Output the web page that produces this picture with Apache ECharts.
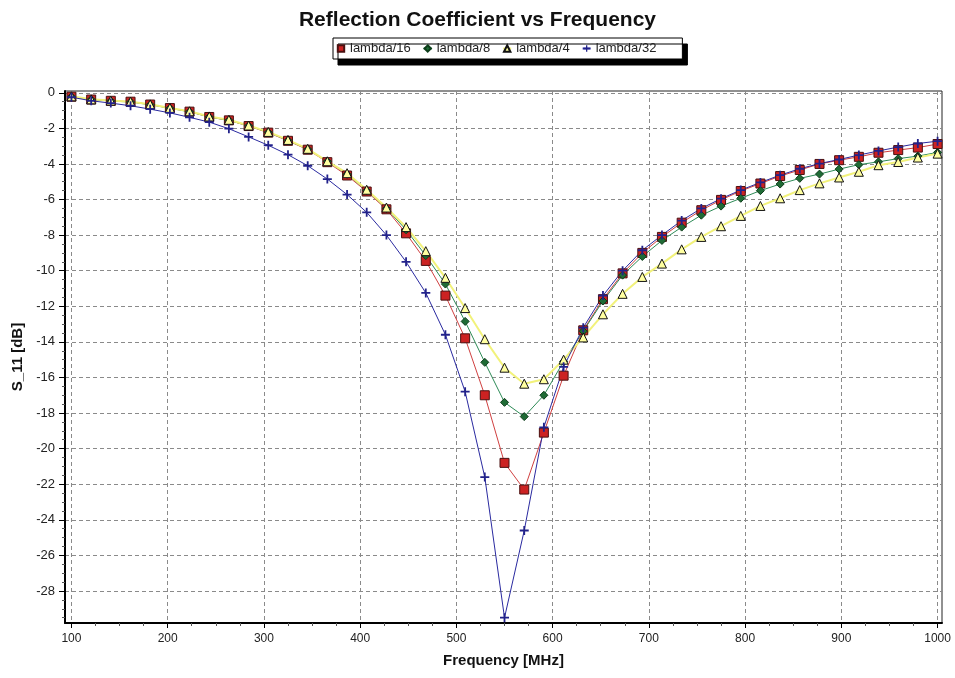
<!DOCTYPE html>
<html><head><meta charset="utf-8">
<script src="https://cdn.jsdelivr.net/npm/echarts@6/dist/echarts.min.js"></script>
<style>html,body{margin:0;padding:0;background:#fff}#c{width:955px;height:678px}</style>
</head><body><div id="c"></div>
<script>
const freq = [100, 120.5, 140.9, 161.4, 181.8, 202.3, 222.7, 243.2, 263.6, 284.1, 304.5, 325, 345.5, 365.9, 386.4, 406.8, 427.3, 447.7, 468.2, 488.6, 509.1, 529.5, 550, 570.5, 590.9, 611.4, 631.8, 652.3, 672.7, 693.2, 713.6, 734.1, 754.5, 775, 795.5, 815.9, 836.4, 856.8, 877.3, 897.7, 918.2, 938.6, 959.1, 979.5, 1000];

const lambda16 = [-0.22, -0.38, -0.45, -0.5, -0.66, -0.86, -1.06, -1.36, -1.55, -1.87, -2.24, -2.7, -3.2, -3.9, -4.65, -5.55, -6.55, -7.9, -9.45, -11.4, -13.8, -17.0, -20.8, -22.3, -19.1, -15.9, -13.35, -11.6, -10.15, -9.0, -8.1, -7.3, -6.6, -6.02, -5.52, -5.1, -4.68, -4.34, -4.0, -3.79, -3.6, -3.37, -3.22, -3.08, -2.88];
const lambda8 = [-0.22, -0.38, -0.46, -0.52, -0.67, -0.87, -1.07, -1.36, -1.55, -1.86, -2.22, -2.68, -3.17, -3.85, -4.58, -5.5, -6.5, -7.7, -9.15, -10.75, -12.85, -15.15, -17.4, -18.2, -17.0, -15.1, -13.4, -11.7, -10.25, -9.2, -8.3, -7.55, -6.88, -6.37, -5.93, -5.5, -5.13, -4.81, -4.57, -4.29, -4.04, -3.88, -3.7, -3.56, -3.35];
const lambda4 = [-0.2, -0.37, -0.44, -0.5, -0.65, -0.85, -1.04, -1.33, -1.52, -1.84, -2.2, -2.65, -3.15, -3.85, -4.52, -5.45, -6.45, -7.55, -8.9, -10.4, -12.1, -13.85, -15.45, -16.35, -16.1, -15.0, -13.75, -12.45, -11.3, -10.35, -9.6, -8.8, -8.1, -7.5, -6.92, -6.36, -5.93, -5.47, -5.09, -4.76, -4.44, -4.07, -3.89, -3.64, -3.42];
const lambda32 = [-0.25, -0.45, -0.58, -0.73, -0.92, -1.13, -1.38, -1.65, -2.02, -2.48, -2.95, -3.48, -4.1, -4.85, -5.72, -6.72, -8.0, -9.5, -11.25, -13.6, -16.8, -21.6, -29.5, -24.6, -18.8, -15.4, -13.2, -11.4, -10.0, -8.85, -8.0, -7.18, -6.5, -5.95, -5.47, -5.04, -4.63, -4.27, -3.98, -3.75, -3.5, -3.27, -3.05, -2.85, -2.72];

const seriesNames = ['lambda/16', 'lambda/8', 'lambda/4', 'lambda/32'];
const xTicks = [100, 200, 300, 400, 500, 600, 700, 800, 900, 1000];
const yTicks = [0, -2, -4, -6, -8, -10, -12, -14, -16, -18, -20, -22, -24, -26, -28];

const X_MIN = 93.3, X_MAX = 1004.6, Y_MIN = -29.8, Y_MAX = 0.1;

function minorBetween(ticks, parts, lo, hi) {
  const out = [];
  const sorted = ticks.slice().sort((a, b) => a - b);
  const step = sorted[1] - sorted[0];
  for (let t = sorted[0] - step; t <= sorted[sorted.length - 1]; t += step) {
    for (let k = 1; k < parts; k++) {
      const v = t + step * k / parts;
      if (v > lo && v < hi) out.push(+v.toFixed(4));
    }
  }
  return out;
}
const xMinor = minorBetween(xTicks, 4, X_MIN, X_MAX);
const yMinor = minorBetween(yTicks, 4, Y_MIN, Y_MAX);

const pair = arr => freq.map((f, i) => [f, arr[i]]);
const plusPath = 'path://M4,0h2v4h4v2h-4v4h-2v-4h-4v-2h4z';

const chart = echarts.init(document.getElementById('c'));
chart.setOption({
  animation: false,
  backgroundColor: '#fff',
  textStyle: { fontFamily: "'Liberation Sans', Arial, sans-serif" },
  title: {
    text: 'Reflection Coefficient vs Frequency',
    left: 'center', top: 5,
    textStyle: { fontSize: 21, fontWeight: 'bold', color: '#111' }
  },
  legend: {
    data: seriesNames,
    left: 333, top: 38,
    itemWidth: 8, itemHeight: 8, itemGap: 12,
    padding: [4, 26, 4, 3],
    backgroundColor: '#fff', borderColor: '#000', borderWidth: 1, borderRadius: 0,
    shadowColor: '#000', shadowBlur: 0, shadowOffsetX: 5, shadowOffsetY: 6,
    textStyle: { fontSize: 13, color: '#222' }
  },
  grid: { left: 65, top: 91, width: 877, height: 532, show: true, borderColor: '#222', borderWidth: 1, backgroundColor: '#fff' },
  xAxis: [
    {
      type: 'value', min: X_MIN, max: X_MAX, position: 'bottom',
      name: 'Frequency [MHz]', nameLocation: 'middle', nameGap: 30,
      nameTextStyle: { fontSize: 15, fontWeight: 'bold', color: '#111' },
      axisLine: { show: true, onZero: false, lineStyle: { color: '#000', width: 2 } },
      axisTick: { show: true, customValues: xTicks, length: 5, lineStyle: { color: '#000' } },
      axisLabel: { customValues: xTicks, margin: 10, fontSize: 12, color: '#222', formatter: v => String(v) },
      splitLine: { show: true, lineStyle: { color: '#8a8a8a', type: [4, 3], width: 1 } }
    },
    {
      type: 'value', min: X_MIN, max: X_MAX, position: 'bottom',
      axisLine: { show: false, onZero: false },
      axisTick: { show: true, customValues: xMinor, length: 3, lineStyle: { color: '#555' } },
      axisLabel: { show: false },
      splitLine: { show: false }
    }
  ],
  yAxis: [
    {
      type: 'value', min: Y_MIN, max: Y_MAX, position: 'left',
      name: 'S_11 [dB]', nameLocation: 'middle', nameGap: 28, nameRotate: 90,
      nameTextStyle: { fontSize: 15, fontWeight: 'bold', color: '#111' },
      axisLine: { show: true, onZero: false, lineStyle: { color: '#000', width: 2 } },
      axisTick: { show: true, customValues: yTicks, length: 6, lineStyle: { color: '#000' } },
      axisLabel: { customValues: yTicks, margin: 10, fontSize: 13, color: '#222', formatter: v => String(v) },
      splitLine: { show: true, lineStyle: { color: '#8a8a8a', type: [4, 3], width: 1 } }
    },
    {
      type: 'value', min: Y_MIN, max: Y_MAX, position: 'left',
      axisLine: { show: false, onZero: false },
      axisTick: { show: true, customValues: yMinor, length: 3, lineStyle: { color: '#555' } },
      axisLabel: { show: false },
      splitLine: { show: false }
    }
  ],
  series: [
    {
      name: 'lambda/16', type: 'line', data: pair(lambda16),
      symbol: 'rect', symbolSize: 9,
      lineStyle: { color: '#d04040', width: 1 },
      itemStyle: { color: '#cc2222', borderColor: '#4a1010', borderWidth: 1 }
    },
    {
      name: 'lambda/8', type: 'line', data: pair(lambda8),
      symbol: 'diamond', symbolSize: 8,
      lineStyle: { color: '#2e8b57', width: 1 },
      itemStyle: { color: '#1f6b35', borderColor: '#0d3d1a', borderWidth: 1 }
    },
    {
      name: 'lambda/4', type: 'line', data: pair(lambda4),
      symbol: 'triangle', symbolSize: 9,
      lineStyle: { color: '#f2f27a', width: 2 },
      itemStyle: { color: '#ffffa0', borderColor: '#111', borderWidth: 1 }
    },
    {
      name: 'lambda/32', type: 'line', data: pair(lambda32),
      symbol: plusPath, symbolSize: 9,
      lineStyle: { color: '#2a2aa0', width: 1 },
      itemStyle: { color: '#22228a', borderWidth: 0 }
    }
  ]
});
</script>
</body></html>
